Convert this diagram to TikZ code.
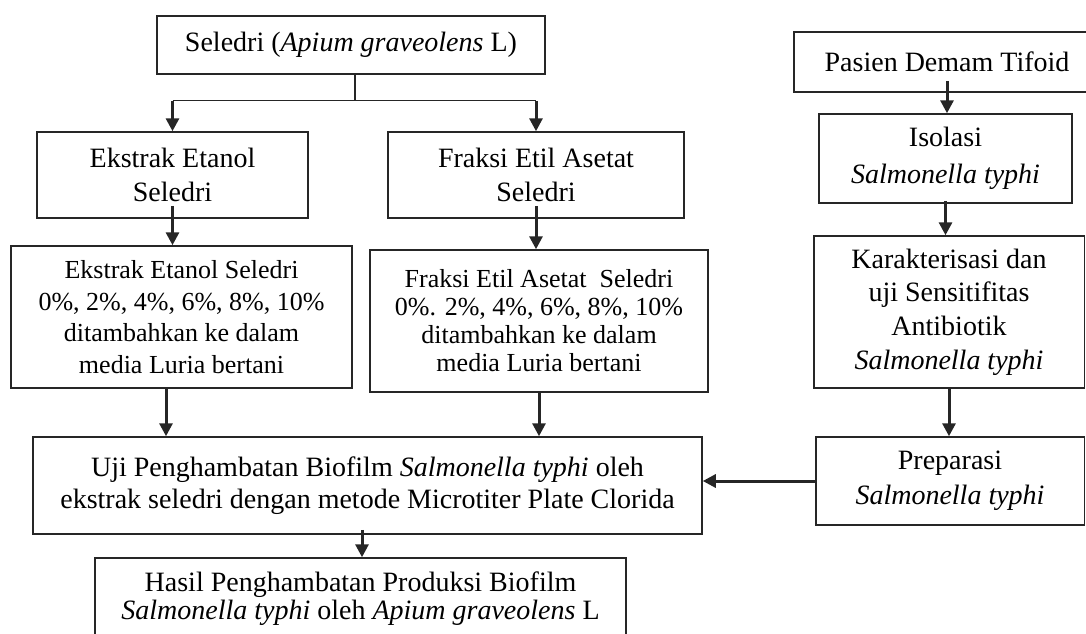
\documentclass[tikz,border=0pt]{standalone}
\usepackage{fontspec}
\setmainfont{Liberation Serif}
\usetikzlibrary{arrows.meta}
\usetikzlibrary{positioning}
\tikzstyle{box}=[rectangle,draw=black!85,line width=0.75pt,inner sep=0mm,align=center,font=\fontsize{14}{16}\selectfont]
\tikzstyle{arrow}=[-{Triangle[width=6.5pt,length=6.5pt]},line width=1.5pt,draw=black!85]
\tikzstyle{link}=[line width=0.6pt,draw=black!85]

\begin{document}
\begin{tikzpicture}[x=0.5pt,y=-0.5pt]
    \useasboundingbox (0,0) rectangle (1086,633);
    \clip (0,0) rectangle (1086,633);
    % left branch
    \node[box,minimum width=194pt,minimum height=29pt] at (351,45) (seledri) {Seledri (\textit{Apium graveolens} L)};
    \node[box,minimum width=135.5pt,minimum height=43pt,font=\fontsize{14}{17}\selectfont] at (172.5,175) (ekstrak) {Ekstrak Etanol\\Seledri};
    \node[box,minimum width=148pt,minimum height=43pt,font=\fontsize{14}{17}\selectfont] at (536,175) (fraksi) {Fraksi Etil Asetat\\Seledri};
    \node[box,minimum width=170.5pt,minimum height=71pt,font=\fontsize{13}{15.8}\selectfont] at (181.5,317) (konsekstrak) {Ekstrak Etanol Seledri\\0\%, 2\%, 4\%, 6\%, 8\%, 10\%\\ditambahkan ke dalam\\media Luria bertani};
    \node[box,minimum width=169pt,minimum height=71pt,font=\fontsize{13}{14}\selectfont] at (539,321) (konsfraksi) {Fraksi Etil Asetat\ \ Seledri\\0\%. 2\%, 4\%, 6\%, 8\%, 10\%\\ditambahkan ke dalam\\media Luria bertani};
    \node[box,minimum width=334.5pt,minimum height=48.5pt] at (367.5,485.5) (uji) {Uji Penghambatan Biofilm \textit{Salmonella typhi} oleh\\ekstrak seledri dengan metode Microtiter Plate Clorida};
    \node[box,minimum width=265.5pt,minimum height=41pt,font=\fontsize{14}{14}\selectfont] at (360.5,599) (hasil) {Hasil Penghambatan Produksi Biofilm\\\textit{Salmonella typhi} oleh \textit{Apium graveolens} L};
    % right branch
    \node[box,minimum width=153pt,minimum height=30pt] at (947,62) (pasien) {Pasien Demam Tifoid};
    \node[box,minimum width=126.5pt,minimum height=44.5pt,font=\fontsize{14}{18.5}\selectfont] at (945.5,158.5) (isolasi) {Isolasi\\\textit{Salmonella typhi}};
    \node[box,minimum width=135.25pt,minimum height=76pt,font=\fontsize{14}{16.8}\selectfont] at (949,312) (karakter) {Karakterisasi dan\\uji Sensitifitas\\Antibiotik\\\textit{Salmonella typhi}};
    \node[box,minimum width=134.25pt,minimum height=44pt,font=\fontsize{14}{17.5}\selectfont] at (950,481) (preparasi) {Preparasi\\\textit{Salmonella typhi}};
    % connectors
    \draw[link] ([xshift=2pt]seledri.south) -- ++(0,26) coordinate (cabang);
    \draw[link] (cabang -| ekstrak.north) -- (cabang -| fraksi.north);
    \draw[arrow] (cabang -| ekstrak.north) -- (ekstrak.north);
    \draw[arrow] (cabang -| fraksi.north) -- (fraksi.north);
    \draw[arrow] ([yshift=6.5pt]ekstrak.south) -- (ekstrak.south |- konsekstrak.north);
    \draw[arrow] ([yshift=6.5pt]fraksi.south) -- (fraksi.south |- konsfraksi.north);
    \draw[arrow] ([xshift=-7.75pt]konsekstrak.south) -- ([xshift=-7.75pt]konsekstrak.south |- uji.north);
    \draw[arrow] (konsfraksi.south) -- (konsfraksi.south |- uji.north);
    \draw[arrow] ([xshift=-2.75pt,yshift=2.5pt]uji.south) -- ([xshift=-2.75pt]uji.south |- hasil.north);
    \draw[arrow] ([yshift=6pt]pasien.south) -- (pasien.south |- isolasi.north);
    \draw[arrow] ([yshift=1.5pt]isolasi.south) -- (isolasi.south |- karakter.north);
    \draw[arrow] (karakter.south) -- (karakter.south |- preparasi.north);
    \draw[arrow] (preparasi.west) -- (preparasi.west -| uji.east);
\end{tikzpicture}
\end{document}
